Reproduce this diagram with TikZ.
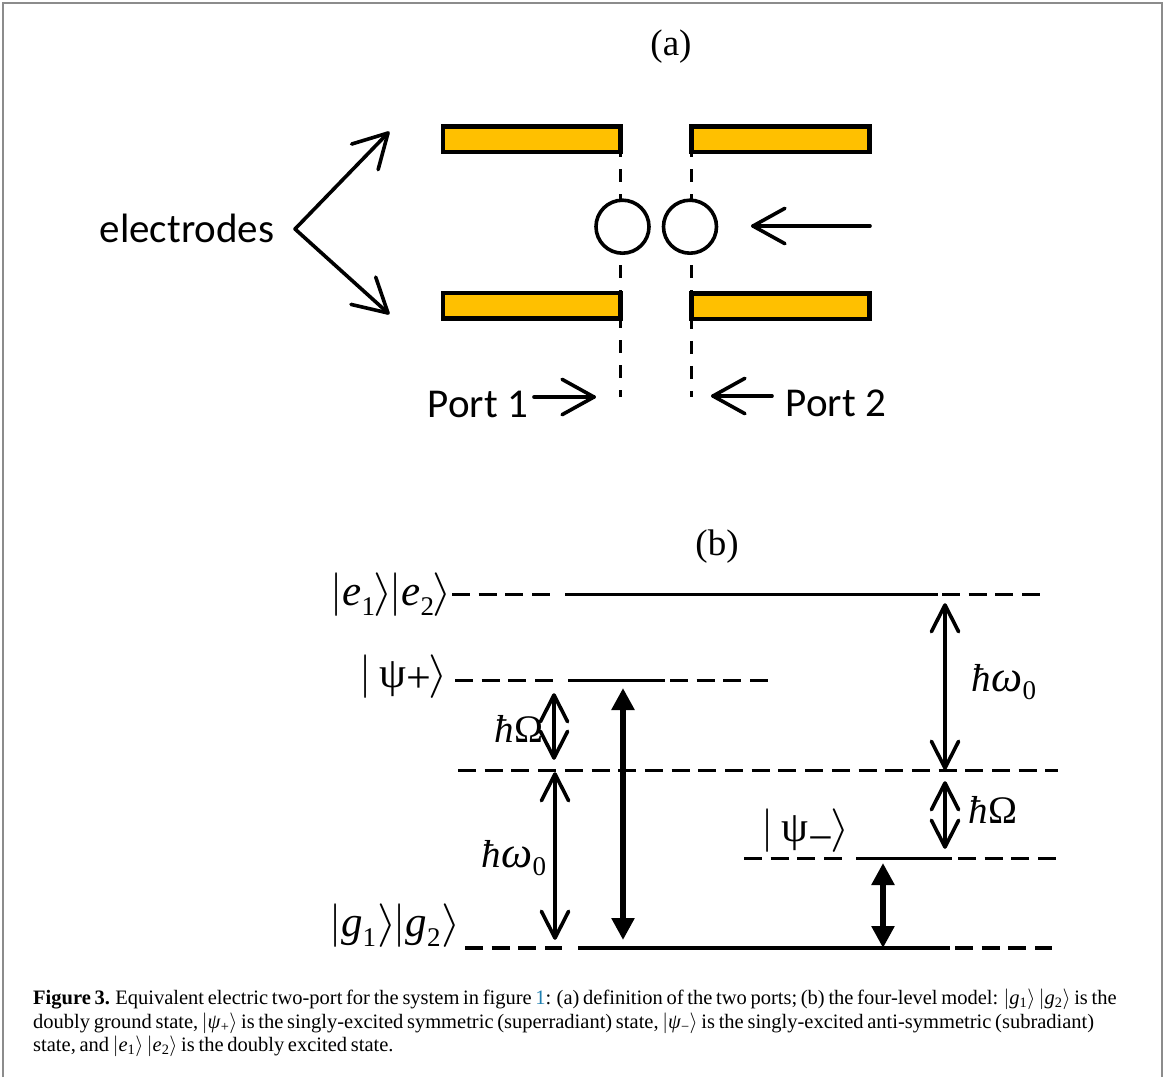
\documentclass[tikz,border=0pt]{standalone}
\usepackage{fontspec}
\usepackage{graphicx}
\setmainfont{Liberation Serif}
\newfontfamily\labelfont{Carlito}
\newfontfamily\capfont[WordSpace=0.72]{Liberation Serif}
\usetikzlibrary{arrows.meta,calc}
\definecolor{framegray}{HTML}{8C8C8C}
\definecolor{electrodefill}{HTML}{FFC000}
\definecolor{linkblue}{HTML}{1F7FB0}
\newcommand{\kl}{\scalebox{1.75}{$\Big|$}}
\newcommand{\kr}{\hspace{-2pt}\scalebox{2}[1.75]{$\Big\rangle$}\hspace{-3pt}}
\newcommand{\sm}[1]{\raisebox{-0.22em}{\fontsize{27}{27}\selectfont #1}}
\newcommand{\smb}[2]{\raisebox{#1}{\fontsize{44}{44}\selectfont #2}}
\newcommand{\omg}{\textit{\fontsize{44}{44}\selectfont ω}}
\newcommand{\barbtip}[5][barbline]{\draw[#1] ($(#2)!#4pt!#5:(#3)$) -- (#2) -- ($(#2)!#4pt!-#5:(#3)$);}
\tikzset{
  x=1pt,y=-1pt,
  frameline/.style={framegray,line width=1.6pt},
  electrode/.style={draw=black,fill=electrodefill,line width=4.5pt,inner sep=0pt,outer sep=0pt,minimum height=25.5pt},
  atom/.style={draw=black,circle,line width=3.6pt,minimum size=53pt,inner sep=0pt,outer sep=0pt},
  guide/.style={line width=3pt,dash pattern=on 13pt off 12pt},
  pointer/.style={line width=3.6pt,line cap=round},
  barbline/.style={line width=3.6pt,line cap=round,line join=round},
  levelsolid/.style={line width=3.5pt},
  leveldash/.style={line width=3.5pt,dash pattern=on 18pt off 8.7pt},
  thinarrow/.style={line width=3.2pt},
  boldarrow/.style={line width=6pt,{Triangle[length=22pt,width=22pt]}-{Triangle[length=22pt,width=22pt]}},
  panel/.style={font=\fontsize{37}{40}\selectfont,inner sep=0pt},
  sanslabel/.style={font=\labelfont\fontsize{41}{44}\selectfont,inner sep=0pt},
  statelabel/.style={font=\fontsize{43}{46}\selectfont,inner sep=0pt},
  energy/.style={font=\fontsize{39}{42}\selectfont,inner sep=0pt},
  capline/.style={font=\capfont\fontsize{20.5}{24}\selectfont,anchor=west,inner sep=0pt}
}
\begin{document}
\begin{tikzpicture}
\useasboundingbox (0,0) rectangle (1165,1077);
\draw[frameline] (3,1077) -- (3,3) -- (1162,3) -- (1162,1077);
\node[panel] (panela) at (671,47) {(a)};
\node[panel] (panelb) at (717,547) {(b)};
% electrodes
\node[electrode,minimum width=177.5pt] (tl) at (531.75,139.25) {};
\node[electrode,minimum width=178pt] (tr) at (780.5,139.25) {};
\node[electrode,minimum width=177.5pt] (bl) at (531.75,305.5) {};
\node[electrode,minimum width=178pt] (br) at (780.5,306) {};
\node[atom] (c1) at (622.5,226.7) {};
\node[atom] (c2) at (690,226.7) {};
\coordinate (gl) at (620.8,397);
\coordinate (gr) at (691.7,397);
\draw[guide,dash phase=8pt] (gl |- tl.south) -- (gl |- c1.north);
\draw[guide,dash phase=13pt] (gl |- c1.south) -- (gl |- bl.north);
\draw[guide,dash phase=3pt] (gl |- bl.south) -- (gl);
\draw[guide,dash phase=8pt] (gr |- tr.south) -- (gr |- c2.north);
\draw[guide,dash phase=13pt] (gr |- c2.south) -- (gr |- br.north);
\draw[guide,dash phase=3pt] (gr |- br.south) -- (gr);
\coordinate (ain) at (870,226);
\coordinate (aintip) at (753,226);
\draw[pointer] (ain) -- (aintip);
\barbtip{aintip}{ain}{36.5}{29}
\node[sanslabel] (el) at (187,228) {electrodes};
\coordinate (ev) at (295,229);
\coordinate (eu) at (388,133);
\coordinate (ed) at (388,313);
\draw[barbline] (eu) -- (ev) -- (ed);
\barbtip{eu}{ev}{38}{29}
\barbtip{ed}{ev}{38}{29}
\node[sanslabel] (p1) at (478,404) {Port 1};
\node[sanslabel] (p2) at (836,403) {Port 2};
\coordinate (p1s) at (534,397);
\coordinate (p1t) at (594,397);
\coordinate (p2s) at (772,396);
\coordinate (p2t) at (713,396);
\draw[pointer] (p1s) -- (p1t);
\barbtip{p1t}{p1s}{36.5}{29}
\draw[pointer] (p2s) -- (p2t);
\barbtip{p2t}{p2s}{36.5}{29}
% levels
\foreach \n/\a/\b/\c/\d/\e/\f/\y in {
  ee/452/550/565/938/942/1040/594.4,
  pp/455/553/568/665/670/768/680.4,
  mm/744/842/856/952/958/1057/858.4,
  gg/465/562/578/950/955/1052/947.8}{
  \coordinate (\n a) at (\a,\y);\coordinate (\n b) at (\b,\y);
  \coordinate (\n c) at (\c,\y);\coordinate (\n d) at (\d,\y);
  \coordinate (\n e) at (\e,\y);\coordinate (\n f) at (\f,\y);
  \draw[leveldash] (\n a) -- (\n b);
  \draw[levelsolid] (\n c) -- (\n d);
  \draw[leveldash] (\n e) -- (\n f);
}
\coordinate (mida) at (458,770.4);
\coordinate (midb) at (1058,770.4);
\draw[leveldash] (mida) -- (midb);
% transitions
\coordinate (a1t) at (554,695);\coordinate (a1b) at (554,758);
\coordinate (a2t) at (555,774);\coordinate (a2b) at (555,938);
\coordinate (a3t) at (945,605);\coordinate (a3b) at (945,768);
\coordinate (a4t) at (945,783);\coordinate (a4b) at (945,847);
\coordinate (b1t) at (623,688);\coordinate (b1b) at (623,940);
\coordinate (b2t) at (883,863);\coordinate (b2b) at (883,948);
\draw[thinarrow] (a1t) -- (a1b);
\barbtip{a1t}{a1b}{30}{27}\barbtip{a1b}{a1t}{30}{27}
\draw[thinarrow] (a2t) -- (a2b);
\barbtip{a2t}{a2b}{30}{27}\barbtip{a2b}{a2t}{30}{27}
\draw[thinarrow] (a3t) -- (a3b);
\barbtip{a3t}{a3b}{30}{27}\barbtip{a3b}{a3t}{30}{27}
\draw[thinarrow] (a4t) -- (a4b);
\barbtip{a4t}{a4b}{30}{27}\barbtip{a4b}{a4t}{30}{27}
\draw[boldarrow] (b1t) -- (b1b);
\draw[boldarrow] (b2t) -- (b2b);
% state labels
\node[statelabel] (se) at (391,595) {\kl\textit{e}\sm{1}\kr\kl\textit{e}\sm{2}\kr};
\node[statelabel] (sg) at (395,926) {\kl\textit{g}\sm{1}\hspace{3pt}\kr\kl\textit{g}\sm{2}\hspace{3pt}\kr};
\node[statelabel] (sp) at (404,677) {\kl\,ψ\smb{-5pt}{+}\kr};
\node[statelabel] (sm) at (806,830.5) {\kl\,ψ\smb{-11pt}{−}\kr};
\node[energy] (e1) at (519,729) {\textit{ħ}Ω};
\node[energy] (e2) at (514,858) {\textit{ħ}\omg\sm{0}};
\node[energy] (e3) at (1004,682) {\textit{ħ}\omg\sm{0}};
\node[energy] (e4) at (993,810) {\textit{ħ}Ω};
% caption
\node[capline] (cap1) at (33,999) {\textbf{Figure 3.} Equivalent electric two-port for the system in figure \textcolor{linkblue}{1}: (a) definition of the two ports; (b) the four-level model: $|$\textit{g}\textsubscript{1}$\rangle\,|$\textit{g}\textsubscript{2}$\rangle$ is the};
\node[capline] (cap2) at (33,1023) {doubly ground state, $|$\textit{ψ}\textsubscript{+}$\rangle$ is the singly-excited symmetric (superradiant) state, $|$\textit{ψ}\textsubscript{−}$\rangle$ is the singly-excited anti-symmetric (subradiant)};
\node[capline] (cap3) at (33,1046) {state, and $|$\textit{e}\textsubscript{1}$\rangle\,|$\textit{e}\textsubscript{2}$\rangle$ is the doubly excited state.};
\end{tikzpicture}
\end{document}
